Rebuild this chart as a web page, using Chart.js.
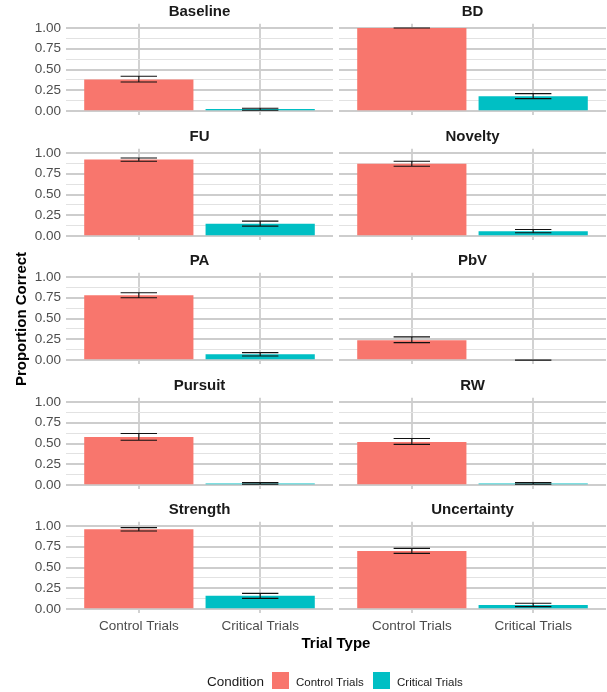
<!DOCTYPE html>
<html><head><meta charset="utf-8">
<script src="https://cdn.jsdelivr.net/npm/chart.js@4.4.1/dist/chart.umd.min.js"></script>
<style>
html,body{margin:0;padding:0;background:#fff;}
body{width:607px;height:692px;position:relative;overflow:hidden;font-family:"Liberation Sans",Arial,sans-serif;}
.cell{position:absolute;}
.cell canvas{display:block;}
.txt{position:absolute;white-space:nowrap;}
.key{position:absolute;width:17px;height:17px;}
</style></head><body>
<div id="grid"></div>
<div class="txt" id="ytitle" style="left:-79px;top:310px;width:200px;text-align:center;font-size:15px;line-height:18px;font-weight:bold;color:#000;transform:rotate(-90deg);"></div>
<div class="txt" id="xtitle" style="left:236px;width:200px;text-align:center;top:634px;font-size:15px;line-height:18px;font-weight:bold;color:#000;"></div>
<div class="txt" id="ltitle" style="left:207px;top:673px;font-size:13.5px;line-height:17px;color:#1A1A1A;"></div>
<div class="key" id="key0" style="left:272px;top:672px;"></div>
<div class="txt" id="lab0" style="left:296px;top:673.5px;font-size:11.5px;line-height:17px;color:#1A1A1A;"></div>
<div class="key" id="key1" style="left:373px;top:672px;"></div>
<div class="txt" id="lab1" style="left:397px;top:673.5px;font-size:11.5px;line-height:17px;color:#1A1A1A;"></div>
<script>
// ---- data ----
const panelNames   = ['Baseline','BD','FU','Novelty','PA','PbV','Pursuit','RW','Strength','Uncertainty'];
const categories   = ['Control Trials','Critical Trials'];
const controlMean  = [0.38, 1.00, 0.92, 0.87, 0.78, 0.24, 0.58, 0.52, 0.96, 0.70];
const controlLow   = [0.35, 1.00, 0.90, 0.84, 0.75, 0.21, 0.54, 0.49, 0.94, 0.67];
const controlHigh  = [0.42, 1.00, 0.94, 0.90, 0.81, 0.28, 0.62, 0.56, 0.98, 0.73];
const criticalMean = [0.025, 0.18, 0.15, 0.06, 0.07, 0.00, 0.02, 0.02, 0.16, 0.05];
const criticalLow  = [0.01, 0.15, 0.12, 0.04, 0.05, 0.00, 0.01, 0.01, 0.13, 0.03];
const criticalHigh = [0.035, 0.21, 0.18, 0.08, 0.09, 0.00, 0.03, 0.03, 0.19, 0.07];
const yTicks       = [0, 0.25, 0.5, 0.75, 1];
const yLabel = 'Proportion Correct';
const xLabel = 'Trial Type';
const legendTitle = 'Condition';

// ---- style ----
const colors = ['#F8766D', '#00BFC4'];
const FONT = '"Liberation Sans", Arial, sans-serif';
const MAJOR = '#CDCDCD', MINOR = '#E2E2E2', VGRID = '#D2D2D2';

document.getElementById('key0').style.background = colors[0];
document.getElementById('key1').style.background = colors[1];
document.getElementById('lab0').textContent = categories[0];
document.getElementById('lab1').textContent = categories[1];
document.getElementById('ytitle').textContent = yLabel;
document.getElementById('xtitle').textContent = xLabel;
document.getElementById('ltitle').textContent = legendTitle;

const errorBars = {
  id: 'errorBars',
  afterDatasetsDraw(chart, args, opts) {
    const xs = chart.scales.x, ys = chart.scales.y, c = chart.ctx;
    const half = xs.getPixelForValue(1.15) - xs.getPixelForValue(1);
    c.save();
    c.strokeStyle = '#111';
    c.lineWidth = 1.1;
    opts.low.forEach((lo, i) => {
      const hi = opts.high[i];
      const x = xs.getPixelForValue(i + 1);
      const y0 = ys.getPixelForValue(lo), y1 = ys.getPixelForValue(hi);
      c.beginPath();
      c.moveTo(x, y0); c.lineTo(x, y1);
      c.moveTo(x - half, y0); c.lineTo(x + half, y0);
      c.moveTo(x - half, y1); c.lineTo(x + half, y1);
      c.stroke();
    });
    c.restore();
  }
};

const minorTicks = [];
for (let k = 0; k <= 8; k++) minorTicks.push(k / 8);
const isMajor = v => yTicks.some(t => Math.abs(t - v) < 1e-9);

const gridDiv = document.getElementById('grid');
panelNames.forEach((name, p) => {
  const row = Math.floor(p / 2), col = p % 2;
  const bottom = row === 4;
  const left = col === 0;
  const W = left ? 333 : 267;
  const H = bottom ? 138 : 122;
  const hx = H - 23.8 - 91.5;
  const div = document.createElement('div');
  div.className = 'cell';
  div.style.left = (left ? 0 : 339) + 'px';
  div.style.top = Math.round(124.5 * row) + 'px';
  div.style.width = W + 'px';
  div.style.height = H + 'px';
  const cv = document.createElement('canvas');
  cv.width = W; cv.height = H;
  div.appendChild(cv);
  gridDiv.appendChild(div);

  new Chart(cv, {
    type: 'bar',
    data: {
      datasets: [{
        data: [{x: 1, y: controlMean[p]}, {x: 2, y: criticalMean[p]}],
        backgroundColor: colors,
        borderWidth: 0,
        barPercentage: 0.9,
        categoryPercentage: 1.0
      }]
    },
    options: {
      responsive: false,
      animation: false,
      events: [],
      devicePixelRatio: 1,
      layout: { padding: 0, autoPadding: false },
      plugins: {
        legend: { display: false },
        tooltip: { enabled: false },
        title: {
          display: true, text: name, fullSize: false, align: 'center',
          color: '#1A1A1A',
          font: { family: FONT, size: 15, weight: 'bold', lineHeight: 1.2 },
          padding: { top: 3.2, bottom: 2.6 }
        },
        errorBars: {
          low: [controlLow[p], criticalLow[p]],
          high: [controlHigh[p], criticalHigh[p]]
        }
      },
      scales: {
        x: {
          type: 'linear', min: 0.4, max: 2.6, offset: false,
          afterBuildTicks: s => { s.ticks = [{value: 1}, {value: 2}]; },
          afterFit: s => { s.height = hx; s.paddingLeft = 0; s.paddingRight = 0; s.paddingTop = 0; s.paddingBottom = 0; },
          border: { display: false },
          grid: { color: VGRID, lineWidth: 2, drawTicks: false, offset: false },
          ticks: {
            display: bottom, autoSkip: false, maxRotation: 0,
            color: '#4D4D4D', font: { family: FONT, size: 13.5 }, padding: 4.5,
            callback: v => categories[v - 1] || ''
          }
        },
        y: {
          type: 'linear', min: -0.05, max: 1.05,
          afterBuildTicks: s => { s.ticks = minorTicks.map(v => ({value: v})); },
          afterFit: s => { s.width = left ? 66 : 0; s.paddingTop = 0; s.paddingBottom = 0; s.paddingLeft = 0; s.paddingRight = 0; },
          border: { display: false },
          grid: {
            drawTicks: false, offset: false,
            color: ctx => (ctx.tick && isMajor(ctx.tick.value)) ? MAJOR : MINOR,
            lineWidth: ctx => (ctx.tick && isMajor(ctx.tick.value)) ? 2 : 1
          },
          ticks: {
            display: left, autoSkip: false,
            color: '#4D4D4D', font: { family: FONT, size: 13.5 }, padding: 5,
            callback: v => isMajor(v) ? v.toFixed(2) : ''
          }
        }
      }
    },
    plugins: [errorBars]
  });
});
</script>
</body></html>
